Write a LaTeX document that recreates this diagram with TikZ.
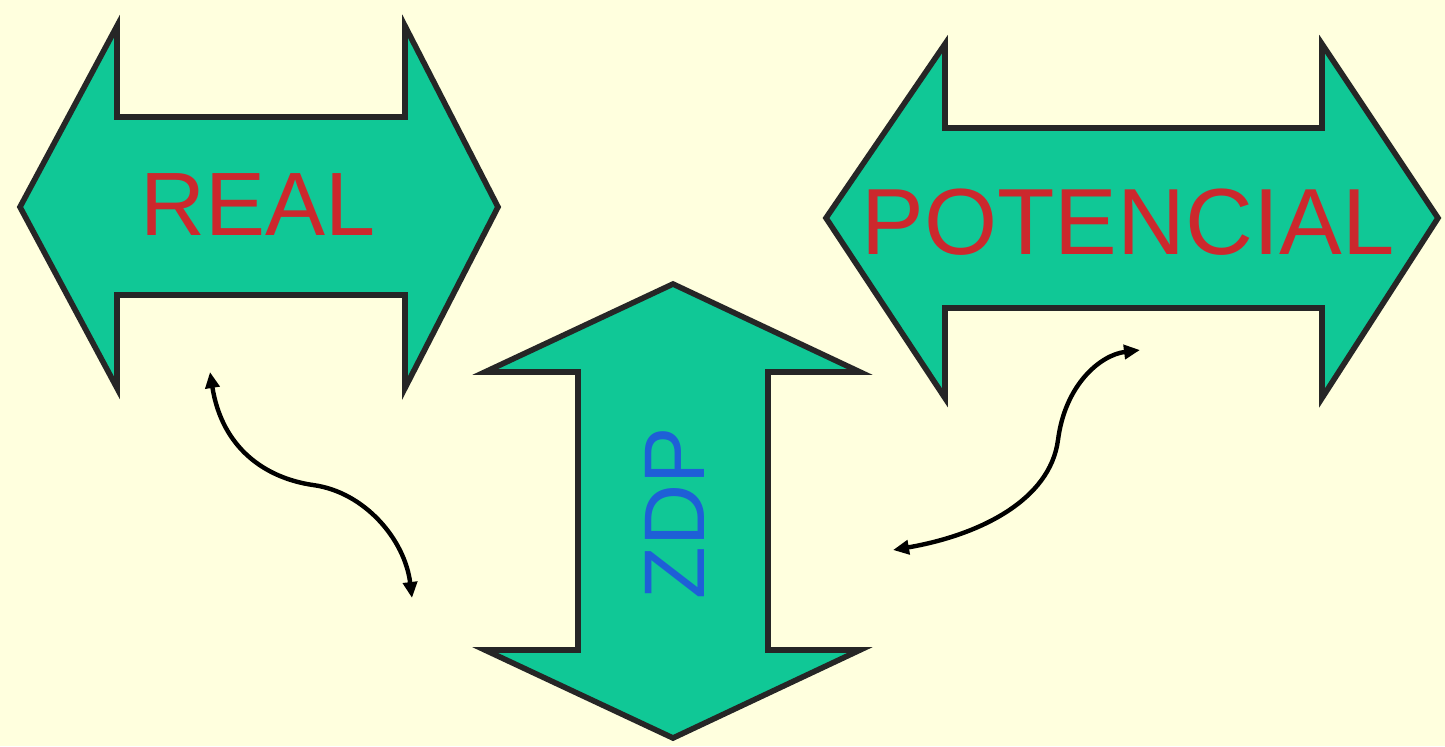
\documentclass[tikz,border=0pt]{standalone}
\usepackage{fontspec}
\setmainfont{Liberation Sans}
\usepackage{xcolor}
\usetikzlibrary{arrows.meta}

\definecolor{bgyellow}{RGB}{255,255,222}
\definecolor{arrowgreen}{RGB}{16,200,150}
\definecolor{labelred}{RGB}{204,40,45}
\definecolor{labelblue}{RGB}{30,95,215}

\begin{document}
\begin{tikzpicture}[x=0.5pt,y=-0.5pt,line width=2.8pt,
  bigarrow/.style={draw=black!85,fill=arrowgreen,line join=miter},
  link/.style={line width=2.2pt,{Triangle[length=8pt,width=7pt]}-{Triangle[length=8pt,width=7pt]}}]

\fill[bgyellow] (0,0) rectangle (1445,746);
\useasboundingbox (0,0) rectangle (1445,746);

% real
\draw[bigarrow] (20,207) -- (117,26) -- (117,117) -- (405,117) -- (405,26) -- (498,207)
  -- (405,388) -- (405,295) -- (117,295) -- (117,388) -- cycle;
\node[text=labelred,font=\fontsize{45}{45}\selectfont] (real) at (258,205) {REAL};

% potencial
\draw[bigarrow] (826,218) -- (945,44) -- (945,128) -- (1322,128) -- (1322,44) -- (1438,218)
  -- (1322,398) -- (1322,308) -- (945,308) -- (945,398) -- cycle;
\node[text=labelred,font=\fontsize{47}{47}\selectfont] (potencial) at (1128,222) {POTENCIAL};

% zdp
\draw[bigarrow] (673,284) -- (860,372) -- (768,372) -- (768,650) -- (860,650) -- (673,738)
  -- (485,650) -- (578,650) -- (578,372) -- (485,372) -- cycle;
\node[rotate=90,text=labelblue,font=\fontsize{43}{43}\selectfont] (zdp) at (675,513) {ZDP};

% links
\coordinate (realend) at (210,372);
\coordinate (zdpleft) at (412,598);
\coordinate (zdpright) at (893,550);
\coordinate (potend) at (1140,350);

\draw[link] (realend) .. controls (222,448) and (265,478) .. (313,485)
  .. controls (365,492) and (405,540) .. (zdpleft);
\draw[link] (zdpright) .. controls (980,535) and (1050,500) .. (1058,440)
  .. controls (1065,385) and (1100,355) .. (potend);

\end{tikzpicture}
\end{document}
